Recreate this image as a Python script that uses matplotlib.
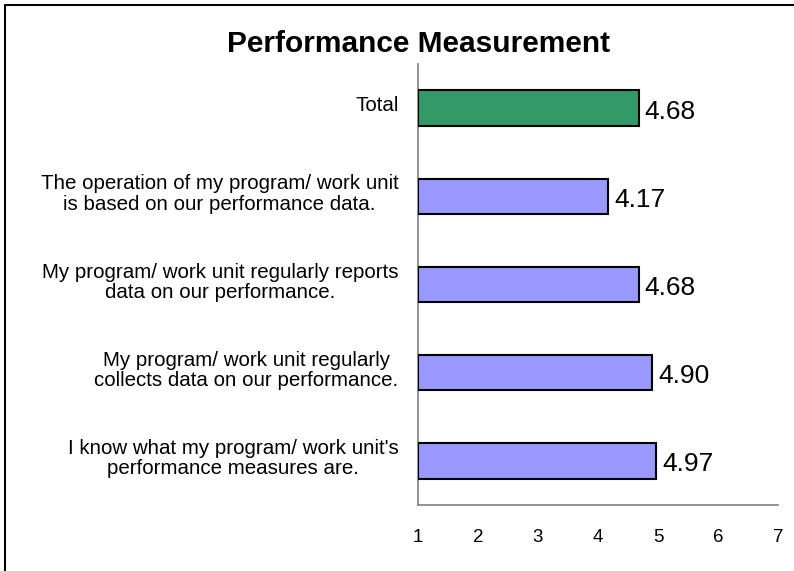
import matplotlib
matplotlib.use("Agg")
import matplotlib.pyplot as plt
from matplotlib.patches import Rectangle
from matplotlib.transforms import ScaledTranslation

categories = [
    "Total",
    "The operation of my program/ work unit\nis based on our performance data.",
    "My program/ work unit regularly reports\ndata on our performance.",
    "My program/ work unit regularly\ncollects data on our performance.",
    "I know what my program/ work unit's\nperformance measures are.",
]
values = [4.68, 4.17, 4.68, 4.90, 4.97]
bar_colors = ["#339966", "#9999FF", "#9999FF", "#9999FF", "#9999FF"]
xticks = [1, 2, 3, 4, 5, 6, 7]

plt.rcParams['font.family'] = ['Liberation Sans', 'DejaVu Sans']

fig = plt.figure(figsize=(7.94, 5.71), dpi=100)
ax = fig.add_axes([418/794, 1-505/571, (778-418)/794, (505-64)/571])

ypos = list(range(len(categories)))
ax.barh(ypos, [v - 1 for v in values], left=1, height=0.4, color=bar_colors,
        edgecolor="black", linewidth=1.5, zorder=3)
for y, v in zip(ypos, values):
    ax.text(v + 0.1, y + 0.04, f"{v:.2f}", va="center", ha="left", fontsize=19)

ax.set_xlim(1, 7)
ax.set_ylim(len(categories) - 0.5, -0.5)
ax.set_xticks(xticks)
ax.set_xticklabels([str(t) for t in xticks], fontsize=13.5)
ax.set_yticks(ypos)
ax.set_yticklabels(categories, fontsize=14.8, multialignment="center", linespacing=1.1)
ax.tick_params(axis="x", length=0, pad=17.5)
ax.tick_params(axis="y", length=0, pad=14)
shift = ScaledTranslation(0, 5/100, fig.dpi_scale_trans)
for lbl in ax.get_yticklabels():
    lbl.set_transform(lbl.get_transform() + shift)
for s in ["top", "right"]:
    ax.spines[s].set_visible(False)
for s in ["left", "bottom"]:
    ax.spines[s].set_color("#808080")
    ax.spines[s].set_linewidth(1.2)

fig.text(419/794, 1-44/571, "Performance Measurement", ha="center", va="center",
         fontsize=21.5, fontweight="bold")

fig.patches.append(Rectangle((5/794, -0.05), 1.2, 1 - 5/571 + 0.05, transform=fig.transFigure,
                             fill=False, edgecolor="black", linewidth=1.5))

fig.savefig("out.png", dpi=100)
